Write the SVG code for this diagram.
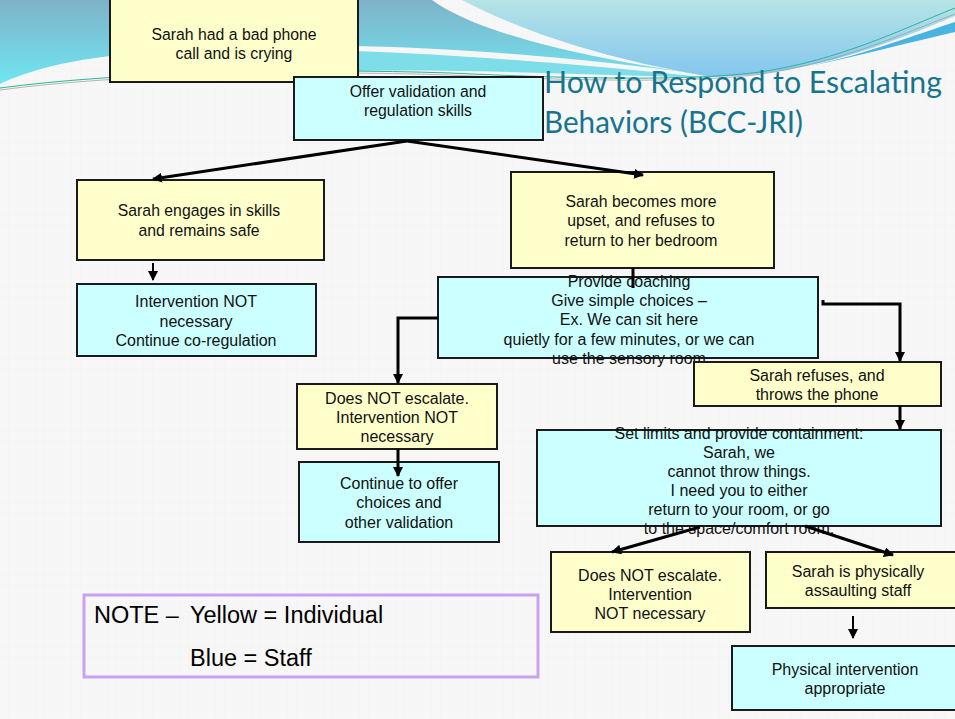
<svg xmlns="http://www.w3.org/2000/svg" width="955" height="719" viewBox="0 0 955 719">
<style>
.bg{fill:#f7f7f7}
.y{fill:#ffffcc;stroke:#1a1a1a;stroke-width:2}
.c{fill:#ccffff;stroke:#1a1a1a;stroke-width:2}
.t{font-family:"Liberation Sans",Arial,sans-serif;font-size:16px;fill:#111;text-anchor:middle}
.n{font-family:"Liberation Sans",Arial,sans-serif;font-size:17px;fill:#111;text-anchor:middle}
.ln{fill:none;stroke:#000;stroke-width:3;marker-end:url(#ah)}
.ls{fill:none;stroke:#000;stroke-width:2;marker-end:url(#ah)}
.title{font-family:Lato,"Open Sans",sans-serif;font-size:30px;fill:#17748f}
.note{font-family:"Liberation Sans",Arial,sans-serif;font-size:23.5px;fill:#000}
</style>
<defs>
<marker id="ah" viewBox="0 0 10 10" refX="9" refY="5" markerWidth="10" markerHeight="10" markerUnits="userSpaceOnUse" orient="auto">
<path d="M0,0 L10,5 L0,10 Z" fill="#000"/>
</marker>
<linearGradient id="gL" x1="0" y1="0" x2="0" y2="1">
<stop offset="0" stop-color="#7fb2c9"/><stop offset="1" stop-color="#6fe6f0"/>
</linearGradient>
<linearGradient id="gR" x1="0" y1="0" x2="0" y2="1">
<stop offset="0" stop-color="#b6e4e6"/><stop offset="1" stop-color="#84c6ee"/>
</linearGradient>
<pattern id="grid" width="9" height="9" patternUnits="userSpaceOnUse">
<path d="M9,0 V9 M0,9 H9" stroke="#efefef" stroke-width="1" fill="none"/>
</pattern>
</defs>

<rect class="bg" x="0" y="0" width="955" height="719"/>
<rect x="0" y="0" width="955" height="719" fill="url(#grid)" opacity="0.6"/>

<g id="banner">
<path d="M0,0 H432 C470,28 560,55 712,76 C600,60 470,48 355,46 C250,44 160,50 110,56 C60,62 25,72 0,84 Z" fill="url(#gL)"/>
<path d="M355,51 C470,55 600,66 712,78 C600,75 470,69 358,71 Z" fill="#7ddde9"/>
<path d="M462,0 H955 V16 C880,48 800,76 712,77 C620,62 530,36 462,0 Z" fill="url(#gR)"/>
<path d="M955,22 C900,40 860,56 800,68 C860,56 910,42 955,32 Z" fill="#48b4e2"/>
<path d="M0,88 C120,72 300,68 450,73 C600,80 700,80 760,72 C840,60 900,30 955,8" fill="none" stroke="#2bb59a" stroke-width="1"/>
<path d="M0,90 C120,74 300,70 450,75 C600,82 700,82 762,74 C842,62 902,34 955,14" fill="none" stroke="#9a9a9a" stroke-width="0.7"/>
</g>

<g id="title">
<text class="title" x="544" y="93" textLength="398" lengthAdjust="spacingAndGlyphs">How to Respond to Escalating</text>
<text class="title" x="544" y="133" textLength="259" lengthAdjust="spacingAndGlyphs">Behaviors (BCC-JRI)</text>
</g>

<g id="n1">
<rect class="y" x="110" y="-2" width="248" height="84"/>
<g transform="translate(234 0) scale(0.93 1)">
<text class="n" x="0" y="40">Sarah had a bad phone</text>
<text class="n" x="0" y="59">call and is crying</text>
</g>
</g>

<g id="n2">
<rect class="c" x="294" y="77" width="249" height="63"/>
<g transform="translate(418 0) scale(0.93 1)">
<text class="n" x="0" y="97">Offer validation and</text>
<text class="n" x="0" y="116">regulation skills</text>
</g>
</g>

<g id="n3">
<rect class="y" x="77" y="180" width="247" height="80"/>
<g transform="translate(199 0) scale(0.93 1)">
<text class="n" x="0" y="216">Sarah engages in skills</text>
<text class="n" x="0" y="236">and remains safe</text>
</g>
</g>

<g id="n4">
<rect class="c" x="77" y="284" width="239" height="72"/>
<text class="t" x="196" y="307">Intervention NOT</text>
<text class="t" x="196" y="327">necessary</text>
<text class="t" x="196" y="346">Continue co-regulation</text>
</g>

<g id="n5">
<rect class="y" x="511" y="172" width="263" height="96"/>
<g transform="translate(641 0) scale(0.93 1)">
<text class="n" x="0" y="207">Sarah becomes more</text>
<text class="n" x="0" y="226">upset, and refuses to</text>
<text class="n" x="0" y="246">return to her bedroom</text>
</g>
</g>

<g id="n6">
<rect class="c" x="438" y="277" width="380" height="81"/>
<text class="t" x="629" y="287">Provide coaching</text>
<text class="t" x="629" y="306">Give simple choices –</text>
<text class="t" x="629" y="325">Ex. We can sit here</text>
<text class="t" x="629" y="345">quietly for a few minutes, or we can</text>
<text class="t" x="629" y="364">use the sensory room</text>
</g>

<g id="n7">
<rect class="y" x="297" y="384" width="200" height="65"/>
<text class="t" x="397" y="404">Does NOT escalate.</text>
<text class="t" x="397" y="423">Intervention NOT</text>
<text class="t" x="397" y="442">necessary</text>
</g>

<g id="n8">
<rect class="c" x="299" y="462" width="200" height="80"/>
<text class="t" x="399" y="489">Continue to offer</text>
<text class="t" x="399" y="508">choices and</text>
<text class="t" x="399" y="528">other validation</text>
</g>

<g id="n9">
<rect class="y" x="694" y="362" width="247" height="44"/>
<text class="t" x="817" y="381">Sarah refuses, and</text>
<text class="t" x="817" y="400">throws the phone</text>
</g>

<g id="n10">
<rect class="c" x="537" y="430" width="404" height="96"/>
<text class="t" x="739" y="439">Set limits and provide containment:</text>
<text class="t" x="739" y="458">Sarah, we</text>
<text class="t" x="739" y="477">cannot throw things.</text>
<text class="t" x="739" y="496">I need you to either</text>
<text class="t" x="739" y="515">return to your room, or go</text>
<text class="t" x="739" y="534">to the space/comfort room.</text>
</g>

<g id="n11">
<rect class="y" x="551" y="552" width="199" height="80"/>
<text class="t" x="650" y="581">Does NOT escalate.</text>
<text class="t" x="650" y="600">Intervention</text>
<text class="t" x="650" y="619">NOT necessary</text>
</g>

<g id="n12">
<rect class="y" x="766" y="552" width="196" height="56"/>
<text class="t" x="858" y="577">Sarah is physically</text>
<text class="t" x="858" y="596">assaulting staff</text>
</g>

<g id="n13">
<rect class="c" x="732" y="646" width="230" height="64"/>
<text class="t" x="845" y="675">Physical intervention</text>
<text class="t" x="845" y="694">appropriate</text>
</g>

<g id="note">
<rect x="84" y="595" width="454" height="82" fill="none" stroke="#c9a2f2" stroke-width="3"/>
<text class="note" x="94" y="623">NOTE –<tspan x="190">Yellow = Individual</tspan></text>
<text class="note" x="190" y="666">Blue = Staff</text>
</g>

<g id="connectors">
<path class="ln" d="M407,141 L153,179"/>
<path class="ln" d="M407,141 L643,175"/>
<path class="ls" d="M153,263 V280"/>
<path d="M633,268 V288" fill="none" stroke="#000" stroke-width="3"/>
<path class="ln" d="M438,318 H398 V383"/>
<path class="ln" d="M823,300 V304 H900 V361"/>
<path class="ln" d="M900,406 V429"/>
<path class="ln" d="M398,449 V476"/>
<path class="ln" d="M700,527 L612,552"/>
<path class="ln" d="M805,526 L893,555"/>
<path class="ls" d="M853,616 V638"/>
</g>
</svg>
